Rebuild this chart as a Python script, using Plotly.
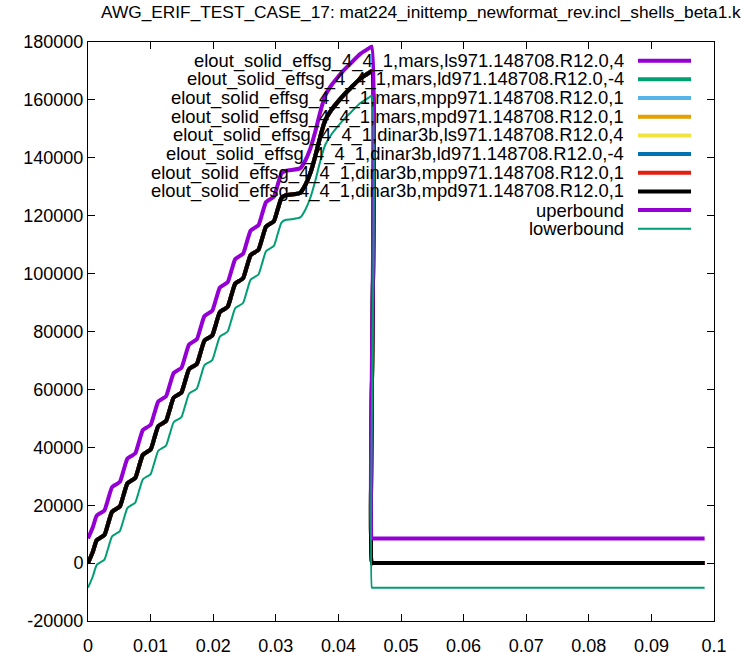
import plotly.graph_objects as go

# time axis (seconds)
time = [0, 0.00077, 0.00139, 0.002, 0.00262, 0.00323, 0.00385, 0.00446, 0.00508,
        0.00569, 0.00631, 0.00692, 0.00754, 0.00815, 0.00877, 0.00938, 0.01,
        0.01061, 0.01123, 0.01184, 0.01246, 0.01307, 0.01369, 0.0143, 0.01492,
        0.01553, 0.01615, 0.01676, 0.01738, 0.01799, 0.01861, 0.01922, 0.01984,
        0.02045, 0.02107, 0.02168, 0.0223, 0.02291, 0.02353, 0.02414, 0.02476,
        0.02537, 0.02599, 0.0266, 0.02722, 0.02783, 0.02845, 0.02906, 0.02968,
        0.03029, 0.03091, 0.03152, 0.0325, 0.0339, 0.0347, 0.0355, 0.0363,
        0.0371, 0.0379, 0.0388, 0.0397, 0.0408, 0.0419, 0.0435, 0.0448, 0.0453,
        0.04535, 0.0455, 0.0985]

# the eight elout curves lie on top of each other
elout = [0, 3875, 7906, 8800, 9694, 13725, 17755, 18650, 19544, 23575, 27605,
         28500, 29394, 33425, 37455, 38350, 39244, 43275, 47305, 48200, 49094,
         53125, 57155, 58050, 58944, 62975, 67005, 67900, 68794, 72825, 76855,
         77750, 78644, 82675, 86705, 87600, 88494, 92525, 96555, 97450, 98344,
         102375, 106405, 107300, 108194, 112225, 116255, 117150, 118044, 122075,
         126105, 127000, 127300, 127900, 130500, 134600, 140500, 147300, 153000,
         156300, 158800, 161600, 164000, 167400, 169200, 169900, 0, 0, 0]

uperbound = [8500, 12375, 16406, 17300, 18194, 22225, 26255, 27150, 28044, 32075,
             36105, 37000, 37894, 41925, 45955, 46850, 47744, 51775, 55805, 56700,
             57594, 61625, 65655, 66550, 67444, 71475, 75505, 76400, 77294, 81325,
             85355, 86250, 87144, 91175, 95205, 96100, 96994, 101025, 105055,
             105950, 106844, 110875, 114905, 115800, 116694, 120725, 124755,
             125650, 126544, 130575, 134605, 135500, 135800, 136400, 139000,
             143100, 149000, 155800, 161500, 164800, 167300, 170100, 172500,
             175900, 177700, 178400, 8500, 8500, 8500]

lowerbound = [-8500, -4625, -594, 300, 1194, 5225, 9255, 10150, 11044, 15075,
              19105, 20000, 20894, 24925, 28955, 29850, 30744, 34775, 38805, 39700,
              40594, 44625, 48655, 49550, 50444, 54475, 58505, 59400, 60294, 64325,
              68355, 69250, 70144, 74175, 78205, 79100, 79994, 84025, 88055, 88950,
              89844, 93875, 97905, 98800, 99694, 103725, 107755, 108650, 109544,
              113575, 117605, 118500, 118800, 119400, 122000, 126100, 132000,
              138800, 144500, 147800, 150300, 153100, 155500, 158900, 160700,
              161400, -8500, -8500, -8500]

labels = [
    'elout_solid_effsg_4_4_1,mars,ls971.148708.R12.0,4',
    'elout_solid_effsg_4_4_1,mars,ld971.148708.R12.0,-4',
    'elout_solid_effsg_4_4_1,mars,mpp971.148708.R12.0,1',
    'elout_solid_effsg_4_4_1,mars,mpd971.148708.R12.0,1',
    'elout_solid_effsg_4_4_1,dinar3b,ls971.148708.R12.0,4',
    'elout_solid_effsg_4_4_1,dinar3b,ld971.148708.R12.0,-4',
    'elout_solid_effsg_4_4_1,dinar3b,mpp971.148708.R12.0,1',
    'elout_solid_effsg_4_4_1,dinar3b,mpd971.148708.R12.0,1',
    'uperbound',
    'lowerbound',
]
colors = ['#9400d3', '#009e73', '#56b4e9', '#e69f00', '#f0e442',
          '#0072b2', '#e51e10', '#000000', '#9400d3', '#009e73']
widths = [4, 4, 4, 4, 4, 4, 4, 4, 4, 2]

x_ticks = [0, 0.01, 0.02, 0.03, 0.04, 0.05, 0.06, 0.07, 0.08, 0.09, 0.1]
x_tick_text = ['0', '0.01', '0.02', '0.03', '0.04', '0.05', '0.06', '0.07', '0.08', '0.09', '0.1']
y_ticks = [-20000, 0, 20000, 40000, 60000, 80000, 100000, 120000, 140000, 160000, 180000]
y_tick_text = [str(v) for v in y_ticks]

series = [elout] * 8 + [uperbound, lowerbound]

FONT = 'Liberation Sans, Arial, sans-serif'

fig = go.Figure()
for name, ys, col, w in zip(labels, series, colors, widths):
    fig.add_trace(go.Scatter(
        x=time, y=ys, name=name, mode='lines',
        line=dict(color=col, width=w, shape='spline', smoothing=0.6),
        showlegend=False,
    ))

# gnuplot-style key: right-aligned text with a line sample to its right
row_top, row_step = 60.7, 18.67
plot_top, plot_h = 42, 579
for i, (name, col, w) in enumerate(zip(labels, colors, widths)):
    yp = (plot_top + plot_h - (row_top + row_step * i)) / plot_h
    fig.add_annotation(
        x=0.8594, y=yp, xref='paper', yref='paper', text=name, showarrow=False,
        xanchor='right', yanchor='middle', font=dict(family=FONT, size=18.4, color='black'),
    )
    fig.add_shape(
        type='line', xref='paper', yref='paper', x0=0.8786, x1=0.9633, y0=yp, y1=yp,
        line=dict(color=col, width=w),
    )

axis_style = dict(
    showline=True, linecolor='black', linewidth=1, mirror='ticks',
    ticks='inside', ticklen=7, tickcolor='black', tickwidth=1,
    showgrid=False, zeroline=False, automargin=False,
    tickfont=dict(family=FONT, size=18, color='black'),
)

fig.update_layout(
    width=745, height=652,
    margin=dict(l=88, r=31, t=42, b=31),
    paper_bgcolor='white', plot_bgcolor='white',
    title=dict(
        text='AWG_ERIF_TEST_CASE_17: mat224_inittemp_newformat_rev.incl_shells_beta1.k',
        x=0.565, xanchor='center', y=1 - 12 / 652, yanchor='middle',
        font=dict(family=FONT, size=17.3, color='black'),
    ),
    xaxis=dict(range=[0, 0.1], tickvals=x_ticks, ticktext=x_tick_text,
               ticklabelstandoff=8, **axis_style),
    yaxis=dict(range=[-20000, 180000], tickvals=y_ticks, ticktext=y_tick_text, **axis_style),
)

fig.write_html('out.html', config={'displayModeBar': False},
               post_script="document.body.style.margin = '0';")
